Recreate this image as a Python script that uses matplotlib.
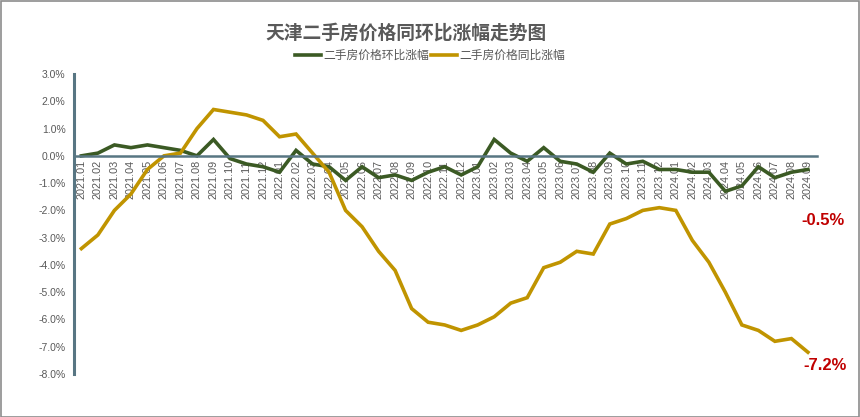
import matplotlib.pyplot as plt

plt.rcParams['font.family'] = ['Liberation Sans', 'Noto Sans CJK SC', 'DejaVu Sans']

months = ['2021.01', '2021.02', '2021.03', '2021.04', '2021.05', '2021.06', '2021.07', '2021.08',
          '2021.09', '2021.10', '2021.11', '2021.12', '2022.01', '2022.02', '2022.03', '2022.04',
          '2022.05', '2022.06', '2022.07', '2022.08', '2022.09', '2022.10', '2022.11', '2022.12',
          '2023.01', '2023.02', '2023.03', '2023.04', '2023.05', '2023.06', '2023.07', '2023.08',
          '2023.09', '2023.10', '2023.11', '2023.12', '2024.01', '2024.02', '2024.03', '2024.04',
          '2024.05', '2024.06', '2024.07', '2024.08', '2024.09']

# 环比 (month on month), %
mom = [0.0, 0.1, 0.4, 0.3, 0.4, 0.3, 0.2, 0.0,
       0.6, -0.1, -0.3, -0.4, -0.6, 0.2, -0.3, -0.4,
       -0.9, -0.4, -0.8, -0.7, -0.9, -0.6, -0.4, -0.7,
       -0.4, 0.6, 0.1, -0.2, 0.3, -0.2, -0.3, -0.6,
       0.1, -0.3, -0.2, -0.5, -0.5, -0.6, -0.6, -1.3,
       -1.1, -0.4, -0.8, -0.6, -0.5]

# 同比 (year on year), %
yoy = [-3.4, -2.9, -2.0, -1.4, -0.5, 0.0, 0.1, 1.0,
       1.7, 1.6, 1.5, 1.3, 0.7, 0.8, 0.1, -0.6,
       -2.0, -2.6, -3.5, -4.2, -5.6, -6.1, -6.2, -6.4,
       -6.2, -5.9, -5.4, -5.2, -4.1, -3.9, -3.5, -3.6,
       -2.5, -2.3, -2.0, -1.9, -2.0, -3.1, -3.9, -5.0,
       -6.2, -6.4, -6.8, -6.7, -7.2]

yticks = [3, 2, 1, 0, -1, -2, -3, -4, -5, -6, -7, -8]

green = '#3b5a24'
gold = '#c09400'
axis_c = '#587683'
text_c = '#595959'

fig = plt.figure(figsize=(8.6, 4.17), dpi=100)
ax = fig.add_axes([0.086, 0.103, 0.864, 0.7195])

# spine position first, it resets the tick settings
for s in ['top', 'right']:
    ax.spines[s].set_visible(False)
ax.spines['bottom'].set_position(('data', 0))
ax.spines['bottom'].set_color(axis_c)
ax.spines['bottom'].set_linewidth(1.8)
ax.spines['left'].set_color(axis_c)
ax.spines['left'].set_linewidth(2.2)

x = list(range(len(months)))
ax.plot(x, mom, color=green, lw=2.6, label='二手房价格环比涨幅', solid_joinstyle='miter')
ax.plot(x, yoy, color=gold, lw=2.6, label='二手房价格同比涨幅', solid_joinstyle='miter')

ax.set_xlim(-0.45, 44.55)
ax.set_ylim(-8, 3)
ax.set_yticks(yticks)
ax.set_yticklabels([f'{v:.1f}%' for v in yticks], fontsize=7.5, color=text_c)
ax.set_xticks(x)
ax.set_xticklabels(months, rotation=90, fontsize=7.8, color=text_c, va='top')
ax.tick_params(axis='both', length=0)
ax.tick_params(axis='x', pad=3)
ax.tick_params(axis='y', pad=6)

ax.annotate(f'{mom[-1]:.1f}%', xy=(x[-1], mom[-1]), xytext=(11, -37), textcoords='offset points',
            ha='center', va='center', fontsize=12, fontweight='bold', color='#c00000')
ax.annotate(f'{yoy[-1]:.1f}%', xy=(x[-1], yoy[-1]), xytext=(12, -9.5), textcoords='offset points',
            ha='center', va='center', fontsize=12, fontweight='bold', color='#c00000')

fig.text(0.4725, 0.921, '天津二手房价格同环比涨幅走势图', ha='center', va='center',
         fontsize=13.5, fontweight='bold', color=text_c)
fig.legend(loc='center', bbox_to_anchor=(0.5, 0.866), ncol=2, frameon=False, fontsize=8.5,
           labelcolor=text_c, handlelength=2.2, handletextpad=0.2, columnspacing=0.2)

fig.patches.append(plt.Rectangle((0.001, 0.001), 0.998, 0.997, transform=fig.transFigure,
                                 fill=False, edgecolor='#8c8c8c', lw=1.2))

fig.savefig('out.png', dpi=100)
